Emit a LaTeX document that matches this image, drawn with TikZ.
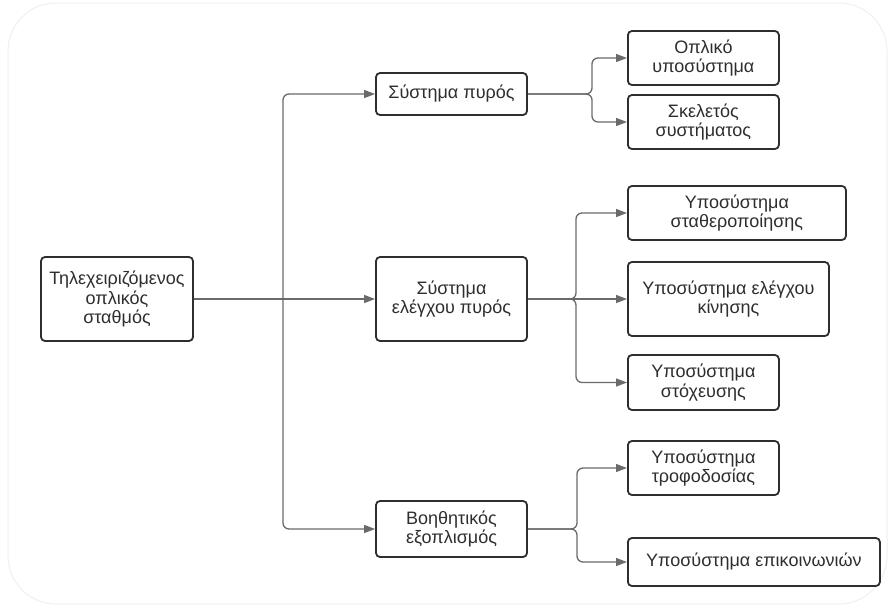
\documentclass[tikz,border=0pt]{standalone}
\usepackage{fontspec}
\setmainfont{Liberation Sans}
\usetikzlibrary{arrows.meta}
\definecolor{boxline}{HTML}{2E2E2E}
\definecolor{wire}{HTML}{6A6A6A}
\definecolor{frame}{HTML}{EFEFEF}
\begin{document}
\begin{tikzpicture}[x=1pt,y=-1pt,
  unit/.style={draw=boxline, line width=1.8pt, rounded corners=4pt, fill=white,
    text=boxline, align=center, inner sep=2pt,
    font=\fontsize{18}{19.5}\selectfont},
  wire/.style={draw=wire, line width=1.3pt, rounded corners=6pt},
  conn/.style={wire, -{Triangle[length=11pt,width=8pt]}}
]
% page and faint outer frame
\useasboundingbox (0,0) rectangle (892,608);
\draw[frame, line width=1pt, rounded corners=48pt] (8,3) rectangle (887,604);

% main station
\node[unit, minimum width=152pt, minimum height=84pt] (root) at (117,299)
  {Τηλεχειριζόμενος\\οπλικός\\σταθμός};

% first level systems
\node[unit, minimum width=151pt, minimum height=42pt] (fire) at (451.5,94) {Σύστημα πυρός};
\node[unit, minimum width=151pt, minimum height=84pt] (fcs) at (451.5,299) {Σύστημα\\ελέγχου πυρός};
\node[unit, minimum width=151pt, minimum height=56pt] (aux) at (451.5,529) {Βοηθητικός\\εξοπλισμός};

% subsystems
\node[unit, anchor=west, minimum width=151pt, minimum height=54pt] (weapon) at (627,58) {Οπλικό\\υποσύστημα};
\node[unit, anchor=west, minimum width=151pt, minimum height=54pt] (frame) at (627,122) {Σκελετός\\συστήματος};
\node[unit, anchor=west, minimum width=218pt, minimum height=54pt] (stab) at (627,213) {Υποσύστημα\\σταθεροποίησης};
\node[unit, anchor=west, minimum width=201pt, minimum height=74pt] (motion) at (627,299) {Υποσύστημα ελέγχου\\κίνησης};
\node[unit, anchor=west, minimum width=151pt, minimum height=55pt] (aim) at (627,382.5) {Υποσύστημα\\στόχευσης};
\node[unit, anchor=west, minimum width=151pt, minimum height=54pt] (power) at (627,468) {Υποσύστημα\\τροφοδοσίας};
\node[unit, anchor=west, minimum width=252pt, minimum height=48pt] (comms) at (627,562) {Υποσύστημα επικοινωνιών};

% junction points
\coordinate (trunk) at (283,299);
\coordinate (jfire) at (592,94);
\coordinate (jfcs) at (576,299);
\coordinate (jaux) at (577,529);

% root to systems
\draw[conn] (root) -- (fcs);
\draw[conn] (trunk) |- (fire.west);
\draw[conn] (trunk) |- (aux.west);

% fire system branch
\draw[conn] (fire.east) -- (jfire) |- (weapon.west);
\draw[conn] (fire.east) -- (jfire) |- (frame.west);

% fire control branch
\draw[conn] (fcs.east) -- (jfcs) |- (stab.west);
\draw[conn] (fcs) -- (motion);
\draw[conn] (fcs.east) -- (jfcs) |- (aim.west);

% auxiliary equipment branch
\draw[conn] (aux.east) -- (jaux) |- (power.west);
\draw[conn] (aux.east) -- (jaux) |- (comms.west);
\end{tikzpicture}
\end{document}
